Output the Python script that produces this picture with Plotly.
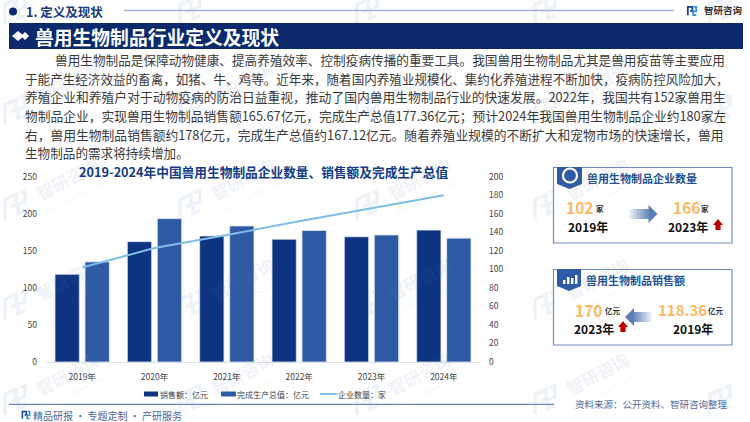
import plotly.graph_objects as go

W, H = 750, 422
FONT = "Noto Sans CJK SC"
NAVY = "#0c2a6b"

years = ["2019年", "2020年", "2021年", "2022年", "2023年", "2024年"]
sales = [118.36, 162.4, 170, 165.67, 169, 178]
output = [135, 193.4, 183.5, 177.36, 171.4, 167.12]
firms = [102, 123, 137, 152, 166, 180]
left_ticks = [0, 50, 100, 150, 200, 250]
right_ticks = [0, 20, 40, 60, 80, 100, 120, 140, 160, 180, 200]
sales_name = "销售额：亿元"
output_name = "完成生产总值：亿元"
firms_name = "企业数量：家"
paragraph = [
    (55, 12.65, "兽用生物制品是保障动物健康、提高养殖效率、控制疫病传播的重要工具。我国兽用生物制品尤其是兽用疫苗等主要应用"),
    (25, 12.57, "于能产生经济效益的畜禽，如猪、牛、鸡等。近年来，随着国内养殖业规模化、集约化养殖进程不断加快，疫病防控风险加大，"),
    (25, 12.78, "养殖企业和养殖户对于动物疫病的防治日益重视，推动了国内兽用生物制品行业的快速发展。2022年，我国共有152家兽用生"),
    (25, 12.75, "物制品企业，实现兽用生物制品销售额165.67亿元，完成生产总值177.36亿元；预计2024年我国兽用生物制品企业约180家左"),
    (25, 12.78, "右，兽用生物制品销售额约178亿元，完成生产总值约167.12亿元。随着养殖业规模的不断扩大和宠物市场的快速增长，兽用"),
    (25, 12.6, "生物制品的需求将持续增加。"),
]

fx = lambda x: x / W
fy = lambda y: 1 - y / H
shapes, annos = [], []


def text(x, y, s, size, color="#333333", anchor="left", bold=False, angle=0, opacity=1):
    annos.append(dict(x=fx(x), y=fy(y), xref="paper", yref="paper", text=f"<b>{s}</b>" if bold else s,
                      showarrow=False, xanchor=anchor, yanchor="middle", textangle=angle, opacity=opacity,
                      font=dict(family=FONT, size=size, color=color), borderpad=0, borderwidth=0))


def rect(x0, y0, x1, y1, fill="rgba(0,0,0,0)", line=None, lw=0, layer="below", opacity=1):
    shapes.append(dict(type="rect", xref="paper", yref="paper", x0=fx(x0), x1=fx(x1), y0=fy(y0), y1=fy(y1),
                       fillcolor=fill, line=dict(color=line or fill, width=lw), layer=layer, opacity=opacity))


def poly(pts, fill, layer="above", opacity=1):
    d = "M" + " L".join(f"{fx(x):.5f},{fy(y):.5f}" for x, y in pts) + " Z"
    shapes.append(dict(type="path", xref="paper", yref="paper", path=d, fillcolor=fill,
                       line=dict(width=0), layer=layer, opacity=opacity))


def stroke(pts, color, lw, layer="above"):
    d = "M" + " L".join(f"{fx(x):.5f},{fy(y):.5f}" for x, y in pts)
    shapes.append(dict(type="path", xref="paper", yref="paper", path=d, line=dict(color=color, width=lw), layer=layer))


def hline(x0, x1, y, color, lw):
    shapes.append(dict(type="line", xref="paper", yref="paper", x0=fx(x0), x1=fx(x1), y0=fy(y), y1=fy(y),
                       line=dict(color=color, width=lw), layer="below"))


def logo(cx, cy, s, c1, c2, lw, layer="above", rot=False):
    k = -0.45 if rot else 0
    t = lambda x, y: (cx + x * s, cy + (y + k * x) * s)
    stroke([t(-1, 1), t(-1, -1), t(0.1, -1), t(0.1, 0), t(-0.4, 0)], c1, lw, layer)
    stroke([t(0.5, -1), t(1, -1), t(1, 0.1), t(0.3, 0.1), t(0.3, 1), t(1, 1)], c2, lw, layer)


# watermark tiles
for lx in [15, 190, 367, 545, 720]:
    for ly in [10, 110, 205, 305, 400]:
        logo(lx, ly, 10, "#edf2f9", "#edf2f9", 3.5, "below", True)
        if lx + 52 < W - 22 and ly - 27 > 8:
            text(lx + 52, ly - 27, "智研咨询", 17, "rgba(90,125,175,0.11)", "center", True, -28)
            text(lx + 60, ly - 8, "INTELLIGENCE RESEARCH GROUP", 4.5, "rgba(90,125,175,0.11)", "center", False, -28)

# header
shapes.append(dict(type="circle", xref="paper", yref="paper", x0=fx(9), x1=fx(17), y0=fy(7.5), y1=fy(15.5),
                   fillcolor=NAVY, line=dict(width=0)))
text(25.5, 11.5, "1. 定义及现状", 12.5, "#1b3a7d", bold=True)
hline(124, 674, 10.5, "#a5b1d2", 1.5)
logo(692, 11, 4.2, "#163f8a", "#2c8fd8", 1.8)
text(704, 10.5, "智研咨询", 9.5, "#333333", bold=True)
rect(9, 23, 743, 49, NAVY)
poly([(12, 36), (18, 31), (24, 36), (18, 41)], "#ffffff")
poly([(21, 36), (25, 32), (29, 36), (25, 40)], "#ffffff")
text(34.5, 36, "兽用生物制品行业定义及现状", 18.8, "#ffffff", bold=True)

for i, (x, size, line) in enumerate(paragraph):
    text(x, 59.3 + i * 18.7, line, size, "#3a3a3a")

# chart title
text(263, 171.3, "2019-2024年中国兽用生物制品企业数量、销售额及完成生产总值", 12.7, "#133b86", "center", True)

# legend key
rect(144, 391.5, 158, 396.5, "#0e3481", layer="above")
text(160, 394, sales_name, 8, "#444444")
rect(221, 391.5, 236, 396.5, "#2e5aa4", layer="above")
text(237, 394, output_name, 8, "#444444")
hline(320, 337, 394, "#7fbde6", 2)
text(338, 394, firms_name, 8, "#444444")

# footer
hline(9, 554, 404.3, "#6c86bb", 1.2)
logo(26, 415, 3.6, "#163f8a", "#2c8fd8", 1.5)
text(33, 415, "精品研报 · 专题定制 · 产研服务", 10, "#46689f")
text(575, 403.8, "资料来源：公开资料、智研咨询整理", 9.5, "#4f6f9f")


def up_arrow(cx, cy):
    poly([(cx - 5, cy), (cx, cy - 6), (cx + 5, cy), (cx + 2.6, cy), (cx + 2.6, cy + 5), (cx - 2.6, cy + 5), (cx - 2.6, cy)], "#c00000")


def fade_arrow(tip, tail, cy):
    sign = 1 if tail < tip else -1
    neck = tip - sign * 9
    n = 14
    for i in range(n):
        a = tail + (neck - tail) * i / n
        b = tail + (neck - tail) * (i + 1) / n + sign * 0.3
        rect(a, cy - 5, b, cy + 5, "#4a6fae", layer="above", opacity=0.08 + 0.75 * i / n)
    poly([(neck, cy - 9), (tip, cy), (neck, cy + 9)], "#4a6fae", opacity=0.9)


# panel 1
rect(553.5, 167.5, 732, 243, "#ffffff", "#6f8dc0", 1.2, "below", 1)
poly([(557, 167), (582, 167), (582, 184), (569.5, 189), (557, 184)], "#2f5aa6")
shapes.append(dict(type="circle", xref="paper", yref="paper", x0=fx(563), x1=fx(577), y0=fy(168.5), y1=fy(182.5),
                   fillcolor="rgba(0,0,0,0)", line=dict(color="#ffffff", width=2.2)))
text(587, 177.5, "兽用生物制品企业数量", 11, "#24528f", bold=True)
text(566, 207, "102", 15.5, "#fdb762", bold=True)
text(595.5, 208.5, "家", 7.5, "#333333", bold=True)
text(568, 226, "2019年", 12, "#111111", bold=True)
fade_arrow(657.5, 629, 214)
text(672.5, 207, "166", 15.5, "#fdb762", bold=True)
text(701, 208.5, "家", 7.5, "#333333", bold=True)
text(668, 226, "2023年", 12, "#111111", bold=True)
up_arrow(718, 225)

# panel 2
rect(553.5, 269.5, 732, 345, "#ffffff", "#6f8dc0", 1.2, "below", 1)
poly([(557, 269), (581, 269), (581, 286), (569, 291), (557, 286)], "#2f5aa6")
for bx, bt in [(563, 280), (567, 277), (571, 278), (575, 275)]:
    rect(bx, bt, bx + 2.4, 284, "#ffffff", layer="above")
text(586, 280, "兽用生物制品销售额", 11, "#24528f", bold=True)
text(575, 309.5, "170", 15.5, "#fdb762", bold=True)
text(604.5, 310.5, "亿元", 7.5, "#333333", bold=True)
text(574, 328, "2023年", 12, "#111111", bold=True)
up_arrow(623, 327)
fade_arrow(625, 652, 317)
text(658, 309.5, "118.36", 15, "#fdb762", bold=True)
text(708, 310.5, "亿元", 7.5, "#333333", bold=True)
text(672.5, 328, "2019年", 12, "#111111", bold=True)

fig = go.Figure()
fig.add_bar(x=years, y=sales, name=sales_name, marker=dict(color="#0e3481", line=dict(color="#dbe3f0", width=0.8)))
fig.add_bar(x=years, y=output, name=output_name, marker=dict(color="#2e5aa4", line=dict(color="#dbe3f0", width=0.8)))
fig.add_scatter(x=years, y=firms, name=firms_name, mode="lines", yaxis="y2", line=dict(color="#7fbde6", width=2))

tickfont = dict(family=FONT, size=8.5, color="#444444")
fig.update_layout(
    width=W, height=H, autosize=False, margin=dict(l=0, r=0, t=0, b=0, pad=0, autoexpand=False),
    paper_bgcolor="#ffffff", plot_bgcolor="rgba(0,0,0,0)", showlegend=False,
    barmode="group", bargap=0.17, bargroupgap=0.19,
    shapes=shapes, annotations=annos, hovermode=False,
    xaxis=dict(domain=[fx(46), fx(480)], showgrid=False, showline=True, linecolor="#dcdfe6", linewidth=1,
               ticks="", tickfont=tickfont, ticklabelstandoff=7, anchor="y"),
    yaxis=dict(domain=[fy(362), fy(176.7)], range=[0, 250], tickvals=left_ticks, showgrid=False, zeroline=False,
               ticks="", tickfont=tickfont, ticklabelstandoff=8, anchor="x"),
    yaxis2=dict(domain=[fy(362), fy(176.7)], range=[0, 200], tickvals=right_ticks, showgrid=False, zeroline=False,
                overlaying="y", side="right", ticks="", tickfont=tickfont, ticklabelstandoff=8, anchor="x"),
)
fig.write_html(
    "out.html",
    config=dict(displayModeBar=False),
    post_script="var g=document.getElementById('{plot_id}');g.style.position='fixed';g.style.left='0';g.style.top='0';document.body.style.margin='0';document.body.style.overflow='hidden';",
)
